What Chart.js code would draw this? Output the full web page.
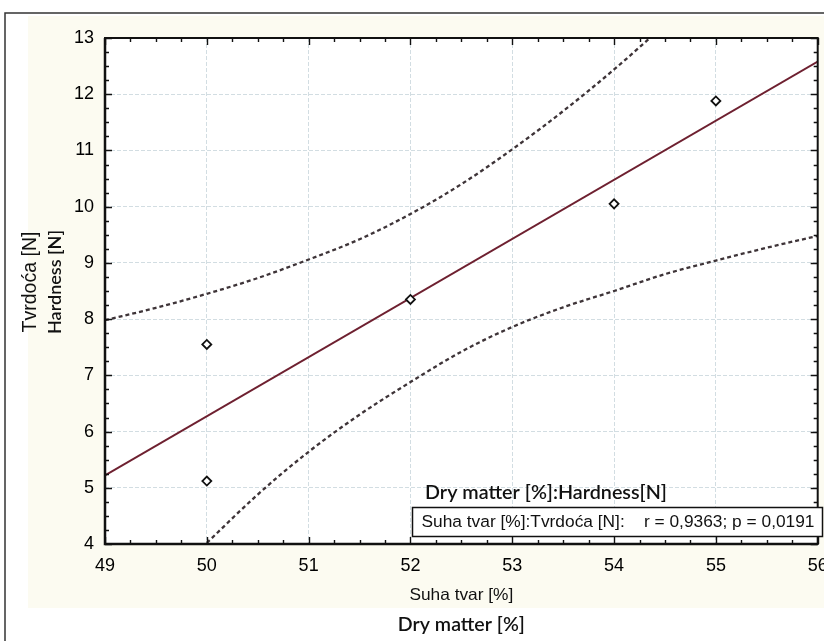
<!DOCTYPE html>
<html><head><meta charset="utf-8">
<script src="https://cdn.jsdelivr.net/npm/chart.js@4.4.0/dist/chart.umd.min.js"></script>
<style>html,body{margin:0;padding:0;background:#fff;}canvas{display:block;}</style>
</head><body>
<canvas id="c" width="824" height="641"></canvas>
<script>
// ---- data ----
const xTicks = [49, 50, 51, 52, 53, 54, 55, 56];
const yTicks = [4, 5, 6, 7, 8, 9, 10, 11, 12, 13];

const pointX = [50, 50, 52, 54, 55];
const pointY = [7.55, 5.12, 8.35, 10.05, 11.88];

const fitX = [49, 56];
const fitY = [5.22, 12.58];

const upperX = [49, 49.5, 50, 50.5, 51, 51.5, 52, 52.5, 53, 53.5, 54, 54.5];
const upperY = [7.98, 8.2, 8.45, 8.73, 9.06, 9.42, 9.87, 10.4, 11.02, 11.7, 12.44, 13.24];

const lowerX = [50, 50.5, 51, 51.5, 52, 52.5, 53, 53.5, 54, 54.5, 55, 55.5, 56];
const lowerY = [4.02, 4.88, 5.64, 6.3, 6.88, 7.42, 7.86, 8.21, 8.5, 8.8, 9.04, 9.27, 9.48];

const legendTitle = 'Dry matter [%]:Hardness[N]';
const legendText = 'Suha tvar [%]:Tvrdoća [N]:    r = 0,9363; p = 0,0191';
const xTitle1 = 'Suha tvar [%]';
const xTitle2 = 'Dry matter [%]';
const yTitle1 = 'Tvrdoća [N]';
const yTitle2 = 'Hardness [N]';

const zip = (xs, ys) => xs.map((x, i) => ({x: x, y: ys[i]}));

const ARIAL = '"Liberation Sans", Arial, sans-serif';
const CALIBRI = 'Lato, "Open Sans", sans-serif';
const CREAM = '#fcfbf1';

function fitSize(ctx, text, weight, family, targetW) {
  ctx.font = weight + ' 20px ' + family;
  const w = ctx.measureText(text).width;
  return 20 * targetW / w;
}
function drawText(ctx, text, weight, family, targetW, x, y, rot) {
  const s = fitSize(ctx, text, weight, family, targetW);
  ctx.save();
  ctx.font = weight + ' ' + s.toFixed(2) + 'px ' + family;
  ctx.fillStyle = '#111';
  ctx.textAlign = 'center';
  ctx.textBaseline = 'middle';
  ctx.translate(x, y);
  if (rot) ctx.rotate(-Math.PI / 2);
  ctx.fillText(text, 0, 0);
  ctx.restore();
}

const decor = {
  id: 'decor',
  beforeDraw(chart) {
    const ctx = chart.ctx, a = chart.chartArea;
    ctx.save();
    ctx.fillStyle = '#fff';
    ctx.fillRect(0, 0, chart.width, chart.height);
    ctx.fillStyle = CREAM;
    ctx.fillRect(28, 16, chart.width - 28, 592);
    ctx.fillStyle = '#fff';
    ctx.fillRect(a.left, a.top, a.right - a.left, a.bottom - a.top);
    // outer frame
    ctx.strokeStyle = '#333';
    ctx.lineWidth = 1.5;
    ctx.beginPath();
    ctx.moveTo(5, chart.height);
    ctx.lineTo(5, 13);
    ctx.lineTo(chart.width, 13);
    ctx.stroke();
    ctx.restore();
  },
  afterDraw(chart) {
    const ctx = chart.ctx, a = chart.chartArea;
    const xs = chart.scales.x, ys = chart.scales.y;
    ctx.save();
    // plot box
    ctx.strokeStyle = '#111';
    ctx.lineWidth = 2;
    ctx.strokeRect(a.left, a.top, a.right - a.left, a.bottom - a.top);
    ctx.lineWidth = 2.5;
    ctx.beginPath();
    ctx.moveTo(a.left, a.top); ctx.lineTo(a.left, a.bottom); ctx.lineTo(a.right, a.bottom);
    ctx.stroke();
    ctx.lineWidth = 1.4;
    ctx.beginPath();
    for (let v = xs.min; v <= xs.max + 1e-9; v += 0.25) {
      const p = Math.round(xs.getPixelForValue(v)) + 0.5;
      const L = Math.abs(v - Math.round(v)) < 1e-6 ? 7 : 4;
      ctx.moveTo(p, a.bottom); ctx.lineTo(p, a.bottom - L);
      ctx.moveTo(p, a.top); ctx.lineTo(p, a.top + L);
    }
    for (let v = ys.min; v <= ys.max + 1e-9; v += 0.25) {
      const p = Math.round(ys.getPixelForValue(v)) + 0.5;
      const L = Math.abs(v - Math.round(v)) < 1e-6 ? 7 : 4;
      ctx.moveTo(a.left, p); ctx.lineTo(a.left + L, p);
      ctx.moveTo(a.right, p); ctx.lineTo(a.right - L, p);
    }
    ctx.stroke();
    // legend
    drawText(ctx, legendTitle, '600', CALIBRI, 242, 546, 493, false);
    ctx.fillStyle = '#fff';
    ctx.fillRect(412, 507, 411, 30);
    ctx.strokeStyle = '#111';
    ctx.lineWidth = 1.5;
    ctx.strokeRect(412.5, 507.5, 410, 29);
    drawText(ctx, legendText, 'normal', ARIAL, 393, 618, 522, false);
    // axis titles
    const cx = (a.left + a.right) / 2;
    drawText(ctx, xTitle1, 'normal', ARIAL, 104, cx, 595, false);
    drawText(ctx, xTitle2, '600', CALIBRI, 127, cx, 625, false);
    drawText(ctx, yTitle1, 'normal', ARIAL, 101, 31, 282, true);
    drawText(ctx, yTitle2, '600', CALIBRI, 104, 55, 282, true);
    ctx.restore();
  }
};

new Chart(document.getElementById('c'), {
  type: 'scatter',
  data: {
    datasets: [
      { label: 'upper', data: zip(upperX, upperY), showLine: true, borderColor: '#3e3438',
        borderWidth: 2.3, borderDash: [4, 3], pointRadius: 0, cubicInterpolationMode: 'monotone', order: 3 },
      { label: 'lower', data: zip(lowerX, lowerY), showLine: true, borderColor: '#3e3438',
        borderWidth: 2.3, borderDash: [4, 3], pointRadius: 0, cubicInterpolationMode: 'monotone', order: 3 },
      { label: 'fit', data: zip(fitX, fitY), showLine: true, borderColor: '#6e2030',
        borderWidth: 2, pointRadius: 0, order: 2 },
      { label: 'points', data: zip(pointX, pointY), showLine: false, pointStyle: 'rectRot',
        pointRadius: 4.5, pointBorderWidth: 1.8, pointBorderColor: '#111', pointBackgroundColor: '#fff', order: 1 }
    ]
  },
  options: {
    responsive: false,
    animation: false,
    devicePixelRatio: 1,
    layout: { padding: { left: 5, top: 38, right: 6, bottom: 0 } },
    plugins: { legend: { display: false }, tooltip: { enabled: false } },
    scales: {
      x: {
        type: 'linear', min: 49, max: 56,
        afterBuildTicks: s => { s.ticks = xTicks.map(v => ({ value: v })); },
        afterFit: s => { s.height = 97; s.paddingLeft = 0; s.paddingRight = 0; },
        grid: { color: '#d2dde2', lineWidth: 1, drawTicks: false },
        border: { display: false, dash: [4, 2] },
        ticks: { autoSkip: false, maxRotation: 0, padding: 11, color: '#000',
          font: { family: ARIAL, size: 18 } }
      },
      y: {
        type: 'linear', min: 4, max: 13,
        afterBuildTicks: s => { s.ticks = yTicks.map(v => ({ value: v })); },
        afterFit: s => { s.width = 100; },
        grid: { color: '#d2dde2', lineWidth: 1, drawTicks: false },
        border: { display: false, dash: [4, 2] },
        ticks: { autoSkip: false, padding: 11, color: '#000',
          font: { family: ARIAL, size: 18 } }
      }
    }
  },
  plugins: [decor]
});
</script>
</body></html>
